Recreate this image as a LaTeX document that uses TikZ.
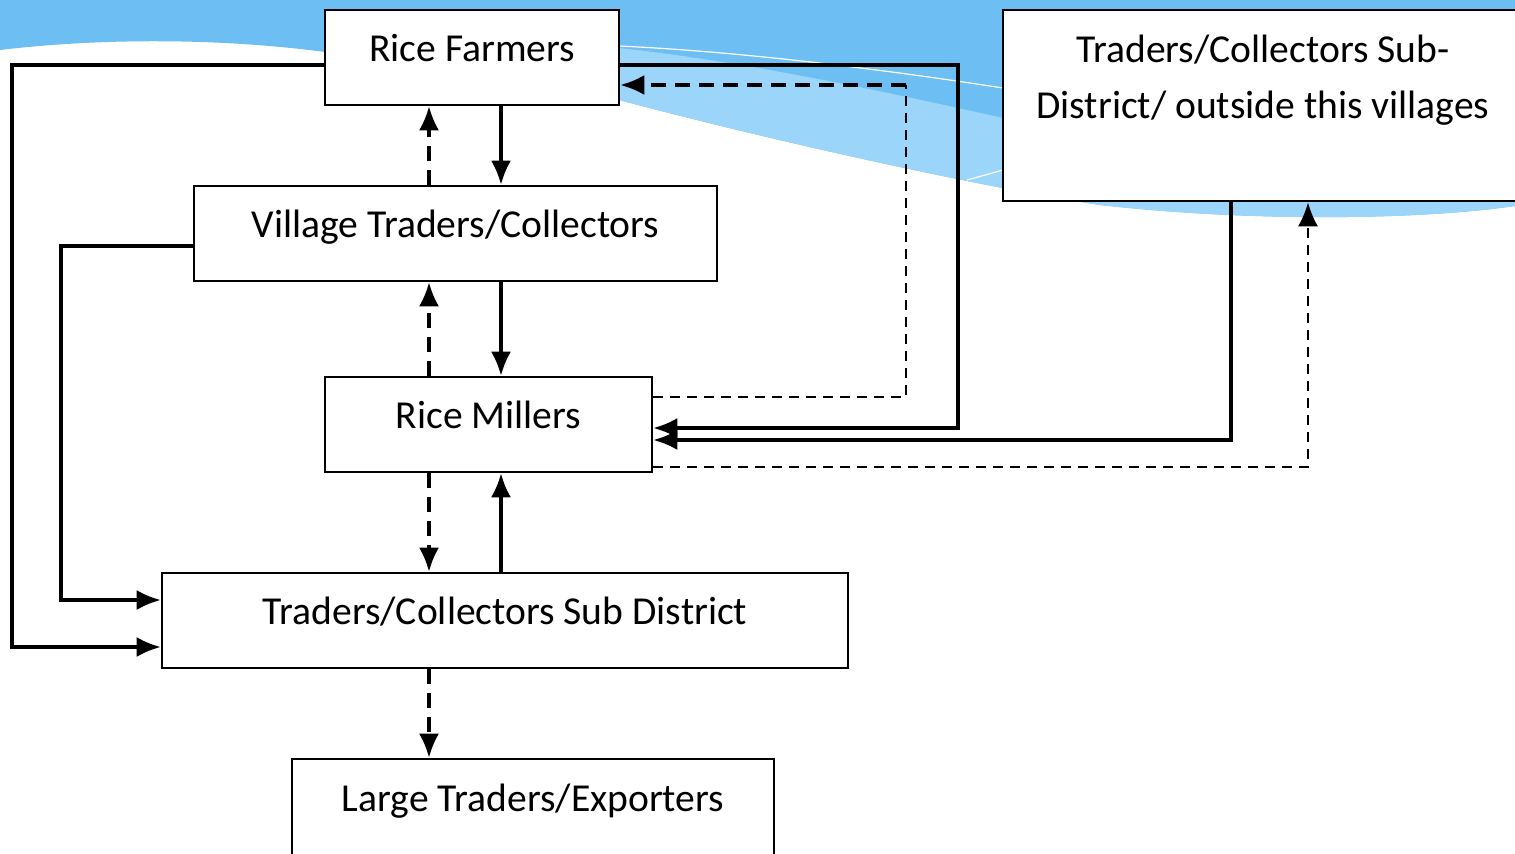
\documentclass[tikz,border=0pt]{standalone}
\usepackage{fontspec}
\setmainfont{Carlito}
\usetikzlibrary{arrows.meta,calc}

\definecolor{sky}{RGB}{108,190,243}
\definecolor{skylight}{RGB}{155,213,250}

\tikzset{
  box/.style={draw, line width=1.3pt, fill=white, minimum height=47.5pt,
    text height=14pt, text depth=10pt, inner sep=0pt},
  flow/.style={line width=1.6pt, -{Latex[length=12pt,width=10pt]}},
  back/.style={flow, dash pattern=on 7.5pt off 4.5pt},
  backthin/.style={line width=1.2pt, dash pattern=on 5pt off 3.5pt},
}

\begin{document}
\begin{tikzpicture}[x=0.5pt,y=-0.5pt,font=\fontsize{19.8}{24}\selectfont]
    \useasboundingbox (0,0) rectangle (1515,853);
    % slide background
    \fill[sky] (0,0) -- (1515,0) -- (1515,206)
        .. controls (1420,220) and (1250,222) .. (1100,205)
        .. controls (1000,190) and (800,148) .. (619,100)
        -- (325,52) .. controls (220,38) and (100,38) .. (0,50) -- cycle;
    \fill[skylight] (619,48) .. controls (750,62) and (900,95) .. (1003,118)
        -- (1515,175) -- (1515,206)
        .. controls (1420,220) and (1250,222) .. (1100,205)
        .. controls (1000,190) and (800,148) .. (619,100) -- cycle;
    \draw[white, line width=0.6pt] (619,46) .. controls (750,52) and (900,72) .. (1003,88);
    \draw[white, line width=0.6pt] (967,180) -- (1003,170);

    % columns and rows for the connectors
    \coordinate (cA) at (501,0);
    \coordinate (cB) at (429,0);
    \coordinate (cFar) at (12,0);
    \coordinate (cNear) at (61,0);
    \coordinate (cLoop) at (958,0);
    \coordinate (cDash) at (906,0);
    \coordinate (cOut) at (1231,0);
    \coordinate (cIn) at (1308,0);
    \coordinate (rTop) at (0,65);
    \coordinate (rBack) at (0,85);
    \coordinate (rVil) at (0,246);
    \coordinate (rM1) at (0,397);
    \coordinate (rM2) at (0,428);
    \coordinate (rM3) at (0,440);
    \coordinate (rM4) at (0,467);
    \coordinate (rS1) at (0,600);
    \coordinate (rS2) at (0,647);

    \node[box, minimum width=147pt] (farmers) at (472,57.5) {Rice Farmers};
    \node[box, minimum width=261.5pt] (village) at (455.5,233.5) {Village Traders/Collectors};
    \node[box, minimum width=163.5pt] (millers) at (488.5,424.5) {Rice Millers};
    \node[box, minimum width=343pt] (subdist) at (505,620.5) {Traders/Collectors Sub District};
    \node[box, minimum width=241pt, minimum height=55pt, text depth=17pt] (large) at (533,814) {Large Traders/Exporters};
    \node[box, minimum width=260pt, minimum height=95.5pt, text height=, text depth=] (outer) at (1263,105.5) {};
    \node[align=center, anchor=north, inner sep=0pt, font=\fontsize{19.8}{28}\selectfont] (outertext)
        at ($(outer.north)+(0,26)$) {Traders/Collectors Sub-\\District/ outside this villages};

    % down the chain
    \draw[flow] (farmers.south -| cA) -- (village.north -| cA);
    \draw[back] (village.north -| cB) -- (farmers.south -| cB);
    \draw[flow] (village.south -| cA) -- (millers.north -| cA);
    \draw[back] (millers.north -| cB) -- (village.south -| cB);
    \draw[back] (millers.south -| cB) -- (subdist.north -| cB);
    \draw[flow] (subdist.north -| cA) -- (millers.south -| cA);
    \draw[back] (subdist.south -| cB) -- (large.north -| cB);

    % left side
    \draw[flow] (farmers.west |- rTop) -| (cFar |- rS2) -- (subdist.west |- rS2);
    \draw[flow] (village.west |- rVil) -| (cNear |- rS1) -- (subdist.west |- rS1);

    % right side
    \draw[flow] (farmers.east |- rTop) -| (cLoop |- rM2) -- (millers.east |- rM2);
    \coordinate (bend) at (cDash |- rBack);
    \draw[backthin] (millers.east |- rM1) -| (bend);
    \draw[back] (bend) -- (farmers.east |- rBack);
    \draw[flow] (outer.south -| cOut) |- (millers.east |- rM3);
    \draw[backthin, -{Latex[length=12pt,width=10pt]}] (millers.east |- rM4) -| (outer.south -| cIn);
\end{tikzpicture}
\end{document}
